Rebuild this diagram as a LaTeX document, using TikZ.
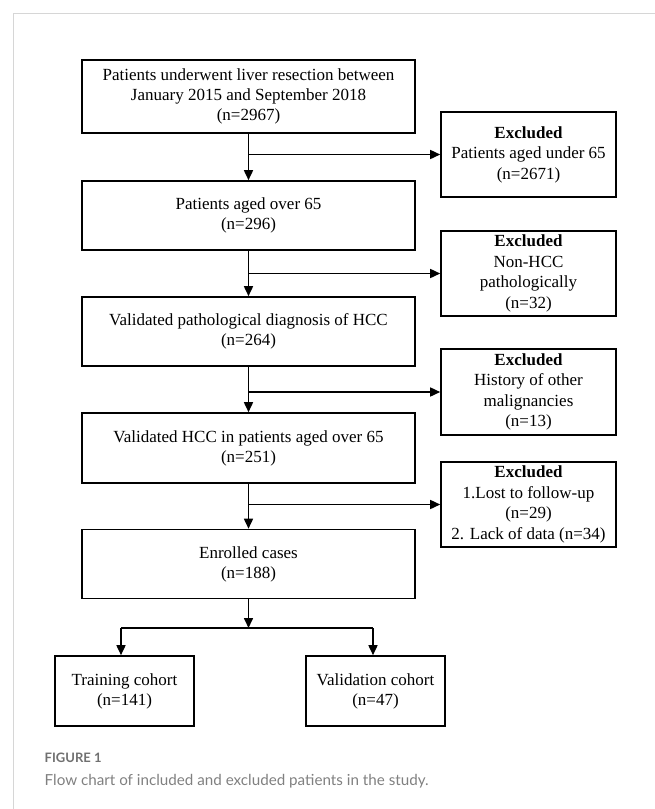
\documentclass[tikz,border=0pt]{standalone}
\usepackage{fontspec}
\setmainfont{Liberation Serif}
\newfontfamily\captionfont{Lato}
\usetikzlibrary{arrows.meta,positioning,calc}
\definecolor{framegray}{RGB}{214,214,214}
\definecolor{capgray}{RGB}{128,128,128}
\definecolor{numgray}{RGB}{112,112,112}

\tikzset{
    mainbox/.style={draw, line width=1.6pt, minimum width=333pt, minimum height=69pt,
        align=center, font=\fontsize{17}{20}\selectfont, inner sep=0pt},
    exclbox/.style={draw, line width=1.6pt, minimum width=175pt, minimum height=85pt,
        align=center, font=\fontsize{17}{20.5}\selectfont, inner sep=0pt},
    cohortbox/.style={draw, line width=1.6pt, minimum width=139pt, minimum height=70pt,
        align=center, font=\fontsize{17}{20}\selectfont, inner sep=0pt},
    flow/.style={-{Triangle[length=10pt, width=9pt]}, line width=1.6pt}
}

\begin{document}
\begin{tikzpicture}[x=1pt, y=-1pt]
    \useasboundingbox (0,0) rectangle (655,809);

    % Frame of the figure panel
    \draw[framegray, line width=1pt] (13,809) -- (13,13) -- (655,13);

    % Main steps
    \node[mainbox, minimum height=73pt] (total) at (248.5,96.5)
        {Patients underwent liver resection between\\January 2015 and September 2018\\(n=2967)};
    \node[mainbox] (aged) at (248.5,215.5) {Patients aged over 65\\(n=296)};
    \node[mainbox] (hcc) at (248.5,331.5) {Validated pathological diagnosis of HCC\\(n=264)};
    \node[mainbox, minimum height=70pt] (hccaged) at (248.5,448)
        {Validated HCC in patients aged over 65\\(n=251)};
    \node[mainbox] (enrolled) at (248.5,564) {Enrolled cases\\(n=188)};

    % Exclusions
    \node[exclbox] (excla) at (528.5,154.5)
        {\textbf{Excluded}\\Patients aged under 65\\(n=2671)};
    \node[exclbox] (exclb) at (528.5,273.5)
        {\textbf{Excluded}\\Non-HCC\\pathologically\\(n=32)};
    \node[exclbox, minimum height=86pt] (exclc) at (528.5,392)
        {\textbf{Excluded}\\History of other\\malignancies\\(n=13)};
    \node[exclbox] (excld) at (528.5,504.5)
        {\textbf{Excluded}\\1.Lost to follow-up\\(n=29)\\2. Lack of data (n=34)};

    % Cohorts
    \node[cohortbox] (train) at (124.5,691) {Training cohort\\(n=141)};
    \node[cohortbox] (valid) at (375.5,691) {Validation cohort\\(n=47)};

    % Arrows down and to the side
    \draw[flow] (total) -- (aged);
    \draw[flow] (aged) -- (hcc);
    \draw[flow] (hcc) -- (hccaged);
    \draw[flow] (hccaged) -- (enrolled);
    \draw[flow] (total.south |- excla.west) -- (excla.west);
    \draw[flow] (aged.south |- exclb.west) -- (exclb.west);
    \draw[flow] (hcc.south |- exclc.west) -- (exclc.west);
    \draw[flow] (hccaged.south |- excld.west) -- (excld.west);

    % Split into cohorts
    \coordinate (split) at (248.5,628);
    \coordinate (trainin) at ($(train.north)+(-3.5,0)$);
    \coordinate (validin) at ($(valid.north)+(-2.5,0)$);
    \draw[flow] (enrolled.south) -- (split);
    \draw[line width=1.6pt] (trainin |- split) -- (validin |- split);
    \draw[flow] (trainin |- split) -- (trainin);
    \draw[flow] (validin |- split) -- (validin);

    % Caption
    \node[anchor=base west, inner sep=0pt, text=numgray, font=\captionfont\bfseries\fontsize{13}{15}\selectfont]
        (fignum) at (44.5,762) {FIGURE 1};
    \node[anchor=base west, inner sep=0pt, text=capgray, font=\captionfont\fontsize{15.2}{18}\selectfont]
        (figcap) at (44.5,785) {Flow chart of included and excluded patients in the study.};
\end{tikzpicture}
\end{document}
